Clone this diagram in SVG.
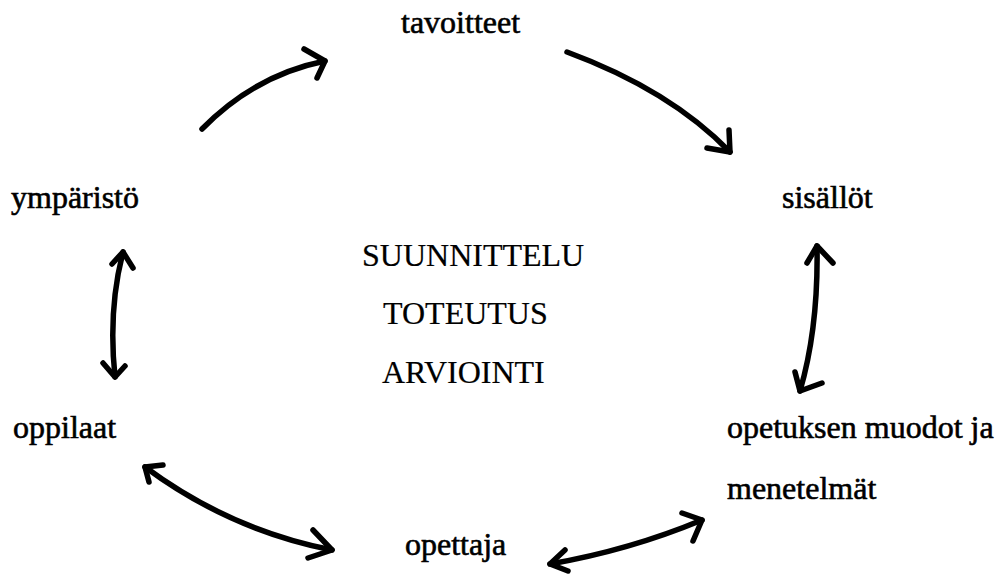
<svg xmlns="http://www.w3.org/2000/svg" width="999" height="575" viewBox="0 0 999 575">
<style>
.lbl{font-family:"Liberation Serif","Times New Roman",serif;font-size:32px;fill:#000;stroke:#000;stroke-width:0.6}
.ctr{font-family:"Liberation Serif","Times New Roman",serif;font-size:32px;fill:#000;stroke:#000;stroke-width:0.2}
.ln{fill:none;stroke:#000;stroke-width:5.5;stroke-linecap:round;stroke-linejoin:round}
</style>
<rect width="999" height="575" fill="#fff"/>
<g id="tavoitteet"><text class="lbl" x="401" y="33">tavoitteet</text></g>
<g id="sisallot"><text class="lbl" x="782" y="208">sisällöt</text></g>
<g id="ymparisto"><text class="lbl" x="11" y="208">ympäristö</text></g>
<g id="center">
<text class="ctr" x="362" y="266">SUUNNITTELU</text>
<text class="ctr" x="383" y="324">TOTEUTUS</text>
<text class="ctr" x="382" y="383">ARVIOINTI</text>
</g>
<g id="oppilaat"><text class="lbl" x="13" y="438">oppilaat</text></g>
<g id="opetuksen"><text class="lbl" x="727" y="438">opetuksen muodot ja</text>
<text class="lbl" x="727" y="499">menetelmät</text></g>
<g id="opettaja"><text class="lbl" x="405" y="555">opettaja</text></g>
<g id="connectors">
<path class="ln" d="M202,129 Q255,75 325,61"/>
<polyline class="ln" points="304,49 325,61 317,78"/>
<path class="ln" d="M567,52 Q670,90 730,152"/>
<polyline class="ln" points="707,148 730,152 729,130"/>
<path class="ln" d="M123,252 Q108,310 115,377"/>
<polyline class="ln" points="112,264 123,252 133,268"/>
<polyline class="ln" points="103,363 115,377 125,366"/>
<path class="ln" d="M817,246 C818,300 812,350 800,391"/>
<polyline class="ln" points="807,263 817,246 833,263"/>
<polyline class="ln" points="795,372 800,391 822,383"/>
<path class="ln" d="M145,467 Q230,530 332,550"/>
<polyline class="ln" points="163,465 145,467 149,482"/>
<polyline class="ln" points="313,530 332,550 308,558"/>
<path class="ln" d="M550,564 Q630,550 702,520"/>
<polyline class="ln" points="565,550 550,564 568,571"/>
<polyline class="ln" points="682,513 702,520 693,541"/>
</g>
</svg>
